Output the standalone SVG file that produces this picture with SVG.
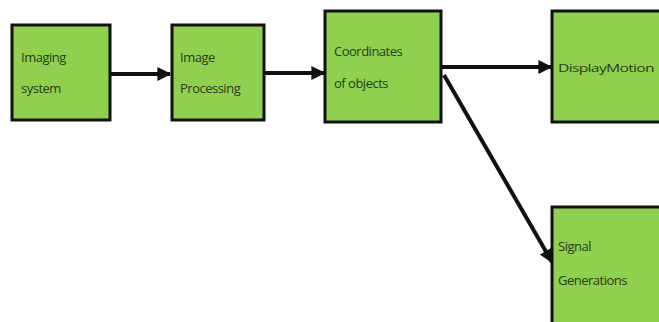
<svg xmlns="http://www.w3.org/2000/svg" width="659" height="322" viewBox="0 0 659 322">
<style>
.box{fill:#8fd14f;stroke:#111;stroke-width:3}
.t{font-family:"Open Sans","Liberation Sans",sans-serif;font-size:13px;fill:#2a3a1a;letter-spacing:-0.5px}
.s{font-size:11px}
.c{stroke:#111;stroke-width:4;fill:none}
</style>
<defs>
<marker id="ah" viewBox="0 0 10 10" refX="9" refY="5" markerWidth="3.5" markerHeight="3.5" orient="auto" markerUnits="strokeWidth">
<path d="M0,0 L10,5 L0,10 z" fill="#111"/>
</marker>
</defs>
<rect width="659" height="322" fill="#fff"/>
<g id="connectors">
<line class="c" x1="110" y1="74" x2="170" y2="74" marker-end="url(#ah)"/>
<line class="c" x1="264" y1="73" x2="324" y2="73" marker-end="url(#ah)"/>
<line class="c" x1="441" y1="67" x2="551" y2="67" marker-end="url(#ah)"/>
<line class="c" x1="444" y1="75" x2="552" y2="262" marker-end="url(#ah)"/>
</g>
<g id="imaging">
<rect class="box" x="12" y="25" width="98" height="95"/>
<text class="t" x="21" y="62">Imaging</text>
<text class="t" x="21" y="93">system</text>
</g>
<g id="processing">
<rect class="box" x="172" y="25" width="92" height="95"/>
<text class="t" x="180" y="62">Image</text>
<text class="t" x="180" y="93">Processing</text>
</g>
<g id="coordinates">
<rect class="box" x="325" y="11" width="116" height="111"/>
<text class="t" x="334" y="56">Coordinates</text>
<text class="t" x="334" y="88">of objects</text>
</g>
<g id="display">
<rect class="box" x="552" y="11" width="110" height="111"/>
<text class="t s" x="558" y="72" textLength="96" lengthAdjust="spacingAndGlyphs">DisplayMotion</text>
</g>
<g id="signal">
<rect class="box" x="552" y="207" width="110" height="118"/>
<text class="t" x="558" y="251">Signal</text>
<text class="t" x="558" y="285">Generations</text>
</g>
</svg>
